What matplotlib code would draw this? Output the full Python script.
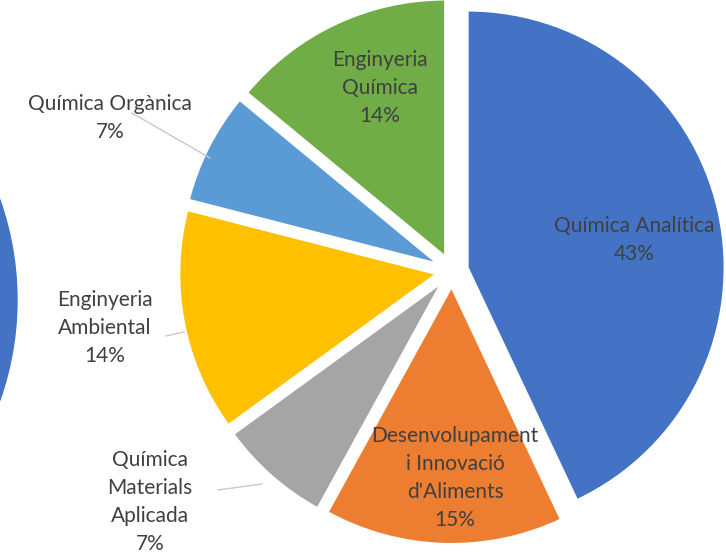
import matplotlib.pyplot as plt
from matplotlib.patches import Circle

W, H = 726, 556

labels = ["Química Analítica", "Desenvolupament\ni Innovació\nd'Aliments",
          "Química\nMaterials\nAplicada", "Enginyeria\nAmbiental",
          "Química Orgànica", "Enginyeria\nQuímica"]
values = [43, 15, 7, 14, 7, 14]
colors = ['#4472C4', '#ED7D31', '#A5A5A5', '#FFC000', '#5B9BD5', '#70AD47']

# label positions in pixel coords (y down)
label_pos = [(634, 240), (455, 478), (150, 502), (105, 328), (110, 118), (380, 88)]
leaders = {2: [(218, 490), (262, 484)],
           3: [(166, 336), (184, 332)],
           4: [(132, 113), (210, 158)]}

plt.rcParams['font.family'] = ['Lato', 'DejaVu Sans']

fig = plt.figure(figsize=(W / 100, H / 100), dpi=100)
ax = fig.add_axes([0, 0, 1, 1])

# edge of the neighbouring chart, cut off at the left
ax.add_patch(Circle((-285, H - 300), 302, color='#4472C4', zorder=0))

# explode is in data units here (pixels)
ax.pie(values, colors=colors, startangle=90, counterclock=False,
       explode=[16] * len(values), radius=257, center=(452, H - 271),
       wedgeprops=dict(edgecolor='white', linewidth=1.5))

for i, (lab, v) in enumerate(zip(labels, values)):
    x, y = label_pos[i]
    ax.text(x, H - y, f"{lab}\n{v}%", ha='center', va='center',
            multialignment='center', fontsize=15, color='#404040',
            linespacing=1.5)

for i, pts in leaders.items():
    xs = [p[0] for p in pts]
    ys = [H - p[1] for p in pts]
    ax.plot(xs, ys, color='#c8c8c8', lw=1)

ax.set_xlim(0, W)
ax.set_ylim(0, H)
ax.axis('off')
fig.savefig('out.png', dpi=100)
